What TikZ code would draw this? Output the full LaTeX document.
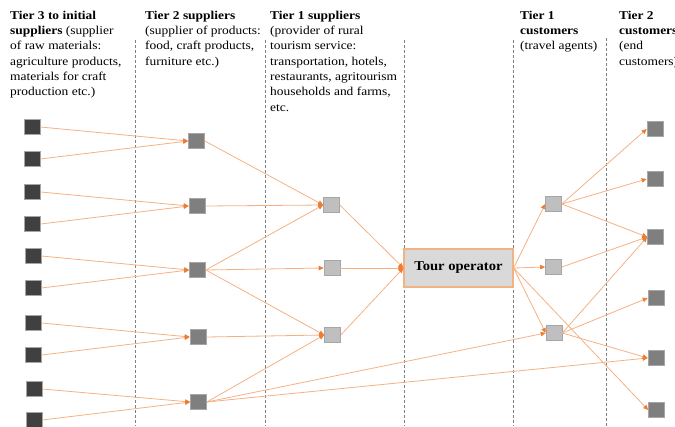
\documentclass[tikz,border=0pt]{standalone}
\usepackage{fontspec}
\setmainfont{Liberation Serif}
\usetikzlibrary{arrows.meta}
\definecolor{ln}{HTML}{F4B183}
\definecolor{tipc}{HTML}{ED7D31}
\definecolor{dk}{HTML}{404040}
\definecolor{md}{HTML}{7F7F7F}
\definecolor{lt}{HTML}{BFBFBF}
\definecolor{bd}{HTML}{A6A6A6}
\definecolor{dsh}{HTML}{808080}
\definecolor{tourfill}{HTML}{D9D9D9}
\newcommand{\hdrtext}[1]{\scalebox{1.12}[1]{\fontsize{12}{15.3}\selectfont\begin{tabular}{@{}l@{}}#1\end{tabular}}}
\tikzset{
  sq/.style={draw=bd, line width=0.6pt, minimum width=16pt, minimum height=14.5pt, inner sep=0pt},
  tthree/.style={sq, fill=dk},
  ttwo/.style={sq, fill=md},
  tone/.style={sq, fill=lt},
  flow/.style={draw=ln, line width=0.8pt, -{Triangle[length=5pt,width=4.5pt,color=tipc]}},
  divider/.style={draw=dsh, line width=0.7pt, dash pattern=on 3pt off 2pt},
  hdr/.style={anchor=north west, inner sep=0pt},
  tourbox/.style={draw=ln, line width=1.2pt, fill=tourfill, minimum width=109pt, minimum height=38pt, inner sep=0pt}
}
\begin{document}
\begin{tikzpicture}[x=1pt,y=-1pt]
\useasboundingbox (0,0) rectangle (675,426);
\clip (0,0) rectangle (675,426);
% dividers
\draw[divider] (135,40) -- (135,426);
\draw[divider] (265,40) -- (265,426);
\draw[divider] (404,40) -- (404,426);
\draw[divider] (513,40) -- (513,426);
\draw[divider] (606,38) -- (606,426);
% headers
\node[hdr] (h1) at (10,8.3) {\hdrtext{\textbf{Tier 3 to initial}\\ \textbf{suppliers} (supplier\\ of raw materials:\\ agriculture products,\\ materials for craft\\ production etc.)}};
\node[hdr] (h2) at (145,8.3) {\hdrtext{\textbf{Tier 2 suppliers}\\ (supplier of products:\\ food, craft products,\\ furniture etc.)}};
\node[hdr] (h3) at (270,8.3) {\hdrtext{\textbf{Tier 1 suppliers}\\ (provider of rural\\ tourism service:\\ transportation, hotels,\\ restaurants, agritourism\\ households and farms,\\ etc.}};
\node[hdr] (h4) at (520,8.3) {\hdrtext{\textbf{Tier 1}\\ \textbf{customers}\\ (travel agents)}};
\node[hdr] (h5) at (619,8.3) {\hdrtext{\textbf{Tier 2}\\ \textbf{customers}\\ (end\\ customers)}};
% tier 3
\node[tthree] (a1) at (32,127) {};
\node[tthree] (a2) at (32,159) {};
\node[tthree] (a3) at (32.5,192) {};
\node[tthree] (a4) at (32.5,224) {};
\node[tthree] (a5) at (33,256) {};
\node[tthree] (a6) at (33,288) {};
\node[tthree] (a7) at (33.5,323) {};
\node[tthree] (a8) at (33.5,355) {};
\node[tthree] (a9) at (34,389) {};
\node[tthree] (a10) at (34,420) {};
% tier 2
\node[ttwo] (b1) at (196.5,141) {};
\node[ttwo] (b2) at (197,206) {};
\node[ttwo] (b3) at (197.5,270) {};
\node[ttwo] (b4) at (198,337) {};
\node[ttwo] (b5) at (198.5,402) {};
% tier 1 suppliers
\node[tone] (s1) at (331.5,205) {};
\node[tone] (s2) at (332,268) {};
\node[tone] (s3) at (332.5,335) {};
% tour operator
\node[tourbox] (tour) at (458.5,268) {\scalebox{1.08}[1]{\fontsize{13.5}{16}\selectfont\bfseries Tour operator}};
% tier 1 customers
\node[tone] (c1) at (553.5,204) {};
\node[tone] (c2) at (553.5,267) {};
\node[tone] (c3) at (554,333) {};
% tier 2 customers
\node[ttwo] (d1) at (655,129) {};
\node[ttwo] (d2) at (655,179) {};
\node[ttwo] (d3) at (655.5,237) {};
\node[ttwo] (d4) at (656,298) {};
\node[ttwo] (d5) at (656,358) {};
\node[ttwo] (d6) at (656.5,410) {};
% flows tier3 -> tier2
\draw[flow] (a1.east) -- (b1.west);
\draw[flow] (a2.east) -- (b1.west);
\draw[flow] (a3.east) -- (b2.west);
\draw[flow] (a4.east) -- (b2.west);
\draw[flow] (a5.east) -- (b3.west);
\draw[flow] (a6.east) -- (b3.west);
\draw[flow] (a7.east) -- (b4.west);
\draw[flow] (a8.east) -- (b4.west);
\draw[flow] (a9.east) -- (b5.west);
\draw[flow] (a10.east) -- (b5.west);
% tier2 -> tier1
\draw[flow] (b1.east) -- (s1.west);
\draw[flow] (b2.east) -- (s1.west);
\draw[flow] (b3.east) -- (s1.west);
\draw[flow] (b3.east) -- (s2.west);
\draw[flow] (b3.east) -- (s3.west);
\draw[flow] (b4.east) -- (s3.west);
\draw[flow] (b5.east) -- (s3.west);
\draw[flow] (b5.east) -- (c3.west);
\draw[flow] (b5.east) -- (d5.west);
% tier1 -> tour
\draw[flow] (s1.east) -- (tour.west);
\draw[flow] (s2.east) -- (tour.west);
\draw[flow] (s3.east) -- (tour.west);
% tour -> customers
\draw[flow] (tour.east) -- (c1.west);
\draw[flow] (tour.east) -- (c2.west);
\draw[flow] (tour.east) -- (c3.west);
\draw[flow] (tour.east) -- (d6.west);
% tier1 customers -> tier2 customers
\draw[flow] (c1.east) -- (d1.west);
\draw[flow] (c1.east) -- (d2.west);
\draw[flow] (c1.east) -- (d3.west);
\draw[flow] (c2.east) -- (d3.west);
\draw[flow] (c3.east) -- (d3.west);
\draw[flow] (c3.east) -- (d4.west);
\draw[flow] (c3.east) -- (d5.west);
\end{tikzpicture}
\end{document}
